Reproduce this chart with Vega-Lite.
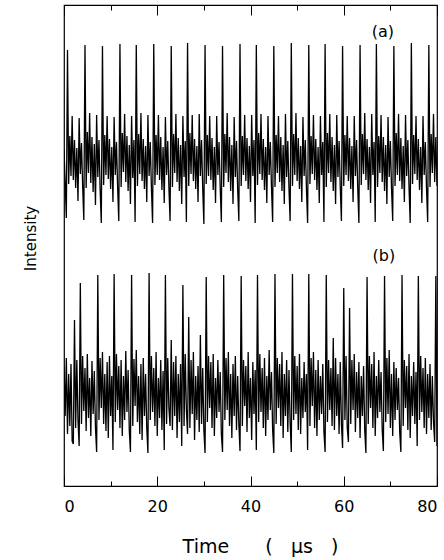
{
"$schema":"https://vega.github.io/schema/vega-lite/v6.json",
"width":373,"height":481,
"autosize":{"type":"none"},
"padding":{"left":64,"top":5,"right":7,"bottom":74},
"background":"white",
"config":{"view":{"stroke":"black","strokeWidth":1.2},"font":"DejaVu Sans"},
"datasets":{
"sig":[
{"t":0,"a":336,"b":119},{"t":0.25,"a":305,"b":70},{"t":0.5,"a":268,"b":128},{"t":0.75,"a":436,"b":52},{"t":1,"a":302,"b":112},{"t":1.25,"a":350,"b":60},{"t":1.5,"a":310,"b":122},{"t":1.75,"a":370,"b":45},{"t":2,"a":306,"b":42},{"t":2.25,"a":346,"b":166},
{"t":2.5,"a":298,"b":58},{"t":2.75,"a":338,"b":126},{"t":3,"a":285,"b":66},{"t":3.25,"a":368,"b":40},{"t":3.5,"a":312,"b":203},{"t":3.75,"a":343,"b":62},{"t":4,"a":300,"b":130},{"t":4.25,"a":266,"b":75},{"t":4.5,"a":441,"b":118},{"t":4.75,"a":298,"b":55},
{"t":5,"a":354,"b":132},{"t":5.25,"a":313,"b":68},{"t":5.5,"a":373,"b":108},{"t":5.75,"a":303,"b":50},{"t":6,"a":349,"b":125},{"t":6.25,"a":294,"b":72},{"t":6.5,"a":342,"b":115},{"t":6.75,"a":281,"b":58},{"t":7,"a":371,"b":34},{"t":7.25,"a":309,"b":211},
{"t":7.5,"a":346,"b":66},{"t":7.75,"a":296,"b":128},{"t":8,"a":263,"b":78},{"t":8.25,"a":440,"b":134},{"t":8.5,"a":301,"b":62},{"t":8.75,"a":351,"b":112},{"t":9,"a":311,"b":55},{"t":9.25,"a":370,"b":124},{"t":9.5,"a":307,"b":48},{"t":9.75,"a":347,"b":130},
{"t":10,"a":297,"b":70},{"t":10.25,"a":339,"b":110},{"t":10.5,"a":284,"b":36},{"t":10.75,"a":369,"b":212},{"t":11,"a":311,"b":64},{"t":11.25,"a":344,"b":132},{"t":11.5,"a":299,"b":76},{"t":11.75,"a":265,"b":120},{"t":12,"a":442,"b":58},{"t":12.25,"a":299,"b":126},
{"t":12.5,"a":353,"b":50},{"t":12.75,"a":314,"b":110},{"t":13,"a":372,"b":66},{"t":13.25,"a":304,"b":135},{"t":13.5,"a":350,"b":74},{"t":13.75,"a":295,"b":116},{"t":14,"a":341,"b":56},{"t":14.25,"a":282,"b":34},{"t":14.5,"a":370,"b":211},{"t":14.75,"a":308,"b":60},
{"t":15,"a":346,"b":127},{"t":15.25,"a":264,"b":80},{"t":15.5,"a":441,"b":136},{"t":15.75,"a":300,"b":64},{"t":16,"a":352,"b":110},{"t":16.25,"a":312,"b":52},{"t":16.5,"a":373,"b":122},{"t":16.75,"a":305,"b":46},{"t":17,"a":347,"b":128},{"t":17.25,"a":297,"b":70},
{"t":17.5,"a":340,"b":112},{"t":17.75,"a":284,"b":58},{"t":18,"a":371,"b":33},{"t":18.25,"a":310,"b":213},{"t":18.5,"a":344,"b":66},{"t":18.75,"a":298,"b":130},{"t":19,"a":263,"b":74},{"t":19.25,"a":442,"b":118},{"t":19.5,"a":301,"b":60},{"t":19.75,"a":351,"b":134},
{"t":20,"a":311,"b":50},{"t":20.25,"a":371,"b":108},{"t":20.5,"a":306,"b":68},{"t":20.75,"a":349,"b":126},{"t":21,"a":296,"b":56},{"t":21.25,"a":339,"b":115},{"t":21.5,"a":283,"b":36},{"t":21.75,"a":369,"b":211},{"t":22,"a":311,"b":62},{"t":22.25,"a":345,"b":128},
{"t":22.5,"a":299,"b":78},{"t":22.75,"a":265,"b":60},{"t":23,"a":440,"b":146},{"t":23.25,"a":299,"b":56},{"t":23.5,"a":352,"b":124},{"t":23.75,"a":313,"b":70},{"t":24,"a":372,"b":130},{"t":24.25,"a":304,"b":48},{"t":24.5,"a":348,"b":112},{"t":24.75,"a":295,"b":64},
{"t":25,"a":341,"b":122},{"t":25.25,"a":282,"b":40},{"t":25.5,"a":370,"b":201},{"t":25.75,"a":309,"b":60},{"t":26,"a":345,"b":132},{"t":26.25,"a":264,"b":76},{"t":26.5,"a":443,"b":52},{"t":26.75,"a":300,"b":169},{"t":27,"a":353,"b":58},{"t":27.25,"a":312,"b":126},
{"t":27.5,"a":371,"b":72},{"t":27.75,"a":305,"b":134},{"t":28,"a":347,"b":46},{"t":28.25,"a":297,"b":110},{"t":28.5,"a":340,"b":66},{"t":28.75,"a":284,"b":120},{"t":29,"a":372,"b":54},{"t":29.25,"a":310,"b":151},{"t":29.5,"a":346,"b":62},{"t":29.75,"a":298,"b":118},
{"t":30,"a":262,"b":56},{"t":30.25,"a":441,"b":33},{"t":30.5,"a":302,"b":209},{"t":30.75,"a":351,"b":64},{"t":31,"a":310,"b":130},{"t":31.25,"a":370,"b":78},{"t":31.5,"a":306,"b":124},{"t":31.75,"a":348,"b":58},{"t":32,"a":296,"b":132},{"t":32.25,"a":339,"b":50},
{"t":32.5,"a":283,"b":108},{"t":32.75,"a":370,"b":68},{"t":33,"a":311,"b":126},{"t":33.25,"a":344,"b":74},{"t":33.5,"a":299,"b":114},{"t":33.75,"a":264,"b":52},{"t":34,"a":440,"b":34},{"t":34.25,"a":299,"b":211},{"t":34.5,"a":352,"b":66},{"t":34.75,"a":313,"b":128},
{"t":35,"a":373,"b":76},{"t":35.25,"a":304,"b":134},{"t":35.5,"a":349,"b":60},{"t":35.75,"a":295,"b":112},{"t":36,"a":341,"b":48},{"t":36.25,"a":282,"b":122},{"t":36.5,"a":369,"b":70},{"t":36.75,"a":309,"b":130},{"t":37,"a":345,"b":56},{"t":37.25,"a":297,"b":110},
{"t":37.5,"a":265,"b":62},{"t":37.75,"a":442,"b":35},{"t":38,"a":300,"b":210},{"t":38.25,"a":350,"b":60},{"t":38.5,"a":311,"b":126},{"t":38.75,"a":371,"b":80},{"t":39,"a":305,"b":120},{"t":39.25,"a":348,"b":54},{"t":39.5,"a":297,"b":134},{"t":39.75,"a":340,"b":68},
{"t":40,"a":284,"b":108},{"t":40.25,"a":371,"b":46},{"t":40.5,"a":310,"b":124},{"t":40.75,"a":346,"b":72},{"t":41,"a":263,"b":116},{"t":41.25,"a":441,"b":36},{"t":41.5,"a":301,"b":211},{"t":41.75,"a":353,"b":64},{"t":42,"a":312,"b":132},{"t":42.25,"a":372,"b":74},
{"t":42.5,"a":306,"b":118},{"t":42.75,"a":347,"b":58},{"t":43,"a":296,"b":128},{"t":43.25,"a":339,"b":50},{"t":43.5,"a":283,"b":110},{"t":43.75,"a":370,"b":66},{"t":44,"a":311,"b":136},{"t":44.25,"a":344,"b":76},{"t":44.5,"a":299,"b":114},{"t":44.75,"a":264,"b":56},
{"t":45,"a":440,"b":33},{"t":45.25,"a":299,"b":212},{"t":45.5,"a":351,"b":62},{"t":45.75,"a":313,"b":128},{"t":46,"a":370,"b":78},{"t":46.25,"a":304,"b":122},{"t":46.5,"a":349,"b":60},{"t":46.75,"a":295,"b":134},{"t":47,"a":341,"b":48},{"t":47.25,"a":282,"b":112},
{"t":47.5,"a":372,"b":70},{"t":47.75,"a":309,"b":126},{"t":48,"a":345,"b":54},{"t":48.25,"a":298,"b":116},{"t":48.5,"a":265,"b":64},{"t":48.75,"a":443,"b":34},{"t":49,"a":300,"b":212},{"t":49.25,"a":352,"b":66},{"t":49.5,"a":311,"b":130},{"t":49.75,"a":373,"b":72},
{"t":50,"a":305,"b":120},{"t":50.25,"a":348,"b":56},{"t":50.5,"a":297,"b":132},{"t":50.75,"a":340,"b":52},{"t":51,"a":284,"b":108},{"t":51.25,"a":369,"b":68},{"t":51.5,"a":310,"b":124},{"t":51.75,"a":346,"b":74},{"t":52,"a":297,"b":112},{"t":52.25,"a":263,"b":36},
{"t":52.5,"a":441,"b":212},{"t":52.75,"a":302,"b":60},{"t":53,"a":350,"b":128},{"t":53.25,"a":312,"b":80},{"t":53.5,"a":371,"b":134},{"t":53.75,"a":306,"b":58},{"t":54,"a":347,"b":116},{"t":54.25,"a":296,"b":50},{"t":54.5,"a":339,"b":126},{"t":54.75,"a":283,"b":66},
{"t":55,"a":370,"b":110},{"t":55.25,"a":311,"b":72},{"t":55.5,"a":344,"b":122},{"t":55.75,"a":264,"b":54},{"t":56,"a":442,"b":34},{"t":56.25,"a":299,"b":211},{"t":56.5,"a":353,"b":64},{"t":56.75,"a":313,"b":126},{"t":57,"a":372,"b":76},{"t":57.25,"a":304,"b":118},
{"t":57.5,"a":349,"b":60},{"t":57.75,"a":295,"b":148},{"t":58,"a":341,"b":56},{"t":58.25,"a":282,"b":128},{"t":58.5,"a":371,"b":70},{"t":58.75,"a":309,"b":112},{"t":59,"a":345,"b":52},{"t":59.25,"a":299,"b":124},{"t":59.5,"a":265,"b":62},{"t":59.75,"a":440,"b":38},
{"t":60,"a":300,"b":198},{"t":60.25,"a":351,"b":66},{"t":60.5,"a":311,"b":130},{"t":60.75,"a":370,"b":58},{"t":61,"a":305,"b":44},{"t":61.25,"a":348,"b":178},{"t":61.5,"a":297,"b":62},{"t":61.75,"a":340,"b":126},{"t":62,"a":284,"b":76},{"t":62.25,"a":370,"b":132},
{"t":62.5,"a":310,"b":54},{"t":62.75,"a":346,"b":114},{"t":63,"a":298,"b":68},{"t":63.25,"a":263,"b":124},{"t":63.5,"a":441,"b":48},{"t":63.75,"a":301,"b":110},{"t":64,"a":352,"b":70},{"t":64.25,"a":312,"b":120},{"t":64.5,"a":373,"b":56},{"t":64.75,"a":306,"b":33},
{"t":65,"a":347,"b":209},{"t":65.25,"a":296,"b":62},{"t":65.5,"a":339,"b":130},{"t":65.75,"a":283,"b":78},{"t":66,"a":372,"b":122},{"t":66.25,"a":311,"b":58},{"t":66.5,"a":344,"b":134},{"t":66.75,"a":264,"b":50},{"t":67,"a":442,"b":110},{"t":67.25,"a":299,"b":68},
{"t":67.5,"a":350,"b":126},{"t":67.75,"a":313,"b":74},{"t":68,"a":371,"b":114},{"t":68.25,"a":304,"b":56},{"t":68.5,"a":349,"b":35},{"t":68.75,"a":295,"b":210},{"t":69,"a":341,"b":64},{"t":69.25,"a":282,"b":128},{"t":69.5,"a":369,"b":72},{"t":69.75,"a":309,"b":136},
{"t":70,"a":345,"b":58},{"t":70.25,"a":297,"b":112},{"t":70.5,"a":265,"b":50},{"t":70.75,"a":440,"b":124},{"t":71,"a":300,"b":66},{"t":71.25,"a":353,"b":118},{"t":71.5,"a":311,"b":76},{"t":71.75,"a":372,"b":108},{"t":72,"a":305,"b":54},{"t":72.25,"a":348,"b":34},
{"t":72.5,"a":297,"b":211},{"t":72.75,"a":340,"b":60},{"t":73,"a":284,"b":126},{"t":73.25,"a":371,"b":78},{"t":73.5,"a":310,"b":120},{"t":73.75,"a":346,"b":56},{"t":74,"a":299,"b":132},{"t":74.25,"a":263,"b":48},{"t":74.5,"a":443,"b":110},{"t":74.75,"a":302,"b":70},
{"t":75,"a":351,"b":124},{"t":75.25,"a":312,"b":62},{"t":75.5,"a":370,"b":114},{"t":75.75,"a":306,"b":40},{"t":76,"a":347,"b":210},{"t":76.25,"a":296,"b":66},{"t":76.5,"a":339,"b":130},{"t":76.75,"a":283,"b":74},{"t":77,"a":370,"b":118},{"t":77.25,"a":311,"b":58},
{"t":77.5,"a":344,"b":128},{"t":77.75,"a":298,"b":52},{"t":78,"a":264,"b":112},{"t":78.25,"a":441,"b":68},{"t":78.5,"a":299,"b":122},{"t":78.75,"a":352,"b":56},{"t":79,"a":313,"b":110},{"t":79.25,"a":372,"b":64},{"t":79.5,"a":304,"b":44},{"t":79.75,"a":349,"b":210},
{"t":80,"a":300,"b":40}
],
"lab":[{"label":"(a)","t":68.4,"v":454},{"label":"(b)","t":68.6,"v":230}]
},
"layer":[
{
"data":{"name":"sig"},
"transform":[{"fold":["a","b"],"as":["series","v"]}],
"mark":{"type":"line","color":"black","strokeWidth":1.3,"clip":true},
"encoding":{
"x":{"field":"t","type":"quantitative","scale":{"domain":[0,80],"nice":false},
"axis":{"orient":"bottom","values":[0,10,20,30,40,50,60,70,80],"ticks":false,"domain":false,
"grid":true,"gridColor":"black","gridOpacity":1,"gridWidth":1,
"gridDash":{"condition":{"test":"datum.value % 20 === 0","value":[10,461]},"value":[5,471]},
"labelExpr":"datum.value % 20 === 0 ? datum.label : ''",
"labelPadding":12,"labelFontSize":16,"labelColor":"black","labelFlush":true,
"title":"Time\u00a0\u00a0\u00a0\u00a0\u00a0\u00a0(\u00a0\u00a0\u00a0µs\u00a0\u00a0\u00a0)","titleFontSize":19,"titleFontWeight":"normal","titleColor":"black","titleX":196,"titleY":51,"titleAlign":"center","titleBaseline":"top"}},
"y":{"field":"v","type":"quantitative","scale":{"domain":[0,481],"nice":false,"zero":false},
"axis":{"title":"Intensity","labels":false,"ticks":false,"domain":false,"grid":false,"titleFontSize":15,"titleFontWeight":"normal","titleColor":"black","titleX":-26,"titleY":233,"titleAlign":"center","titleBaseline":"bottom","titleAngle":-90}},
"detail":{"field":"series"}
}
},
{
"data":{"name":"lab"},
"mark":{"type":"text","fontSize":16,"color":"black","align":"center","baseline":"middle"},
"encoding":{
"x":{"field":"t","type":"quantitative","axis":null},
"y":{"field":"v","type":"quantitative","axis":null},
"text":{"field":"label"}
}
}
],
"resolve":{"axis":{"x":"independent","y":"independent"}}
}
